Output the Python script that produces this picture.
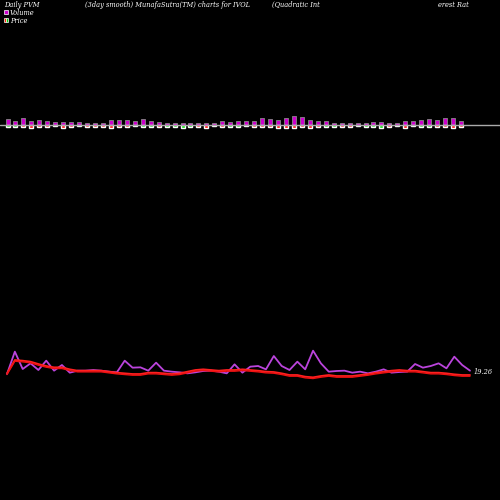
import numpy as np, pandas as pd, matplotlib
matplotlib.use("Agg")
import matplotlib.pyplot as plt, seaborn as sns

vol_top = [357,362,355,362,360,363,367,366,366,367,368,368,370,360,360,361,363,357,363,366,368,369,369,369,369,369,370,363,366,364,362,363,354,356,360,355,348,351,360,363,364,368,369,370,368,368,366,366,369,368,363,362,360,357,360,354,355,362]
price_val = [-2,-2,-2,-3,-2,-2,0,-3,-2,-1,-2,-2,-2,-3,-2,-2,-1,-2,-2,-2,-2,-2,-3,-2,-2,-3,0,-2,-2,-2,-1,-2,-2,-2,-3,-3,-3,-2,-3,-2,-2,-2,-2,-2,-1,-2,-2,-3,-2,-1,-3,-1,-2,-2,-2,-2,-3,-2]
price_up = [1,1,0,0,0,0,0,0,0,1,0,0,0,0,0,0,0,1,1,0,1,1,1,1,0,0,0,0,1,1,0,0,0,0,0,0,0,0,0,0,1,1,0,0,0,1,1,1,0,1,0,0,1,1,0,0,0,0]
purple = [102,35,87,70,90,62,92,75,98,92,92,90,92,95,97,62,83,82,92,68,92,95,97,100,97,93,92,95,100,73,98,80,78,88,48,78,90,65,88,32,70,95,93,92,98,95,100,95,88,98,96,95,72,83,78,70,85,50,75,92]
red = [100,60,62,65,72,78,82,82,88,92,92,92,92,95,98,100,102,102,98,98,100,102,100,95,90,88,90,92,90,90,88,90,92,95,96,100,105,105,110,112,108,105,108,108,108,105,102,98,95,92,90,92,92,95,98,98,100,103,105,105]

sns.set_style("dark")
fig = plt.figure(figsize=(5,5), dpi=100, facecolor="black")
ax = fig.add_axes([0,0,1,1]); ax.set_facecolor("black")

n = len(vol_top)
bx = np.linspace(7.5, 461, n)
vh = [(375-t)/3 for t in vol_top]
ax.bar(bx, [-h for h in vh], bottom=125, width=4, color="#cc00cc", edgecolor="#888888", linewidth=0.6)
ph = [-p if p!=0 else 1 for p in price_val]
cols = ["#00dd00" if u else "#ff0000" for u in price_up]
ax.bar(bx, ph, bottom=125, width=4, color=cols)
ax.axhline(125, color="#aaaaaa", lw=1)

lx = np.linspace(7, 470, len(purple))
df = pd.DataFrame({"x": lx, "p": 340+np.array(purple)/3, "r": 340+np.array(red)/3})
sns.lineplot(data=df, x="x", y="p", ax=ax, color="#bb44dd", lw=1.3)
sns.lineplot(data=df, x="x", y="r", ax=ax, color="#ff2020", lw=1.3)
df["r2"] = df["r"] + 1.2
sns.lineplot(data=df, x="x", y="r2", ax=ax, color="#ee1111", lw=1.0)
ax.set_xlim(0,500); ax.set_ylim(500,0); ax.axis("off")

f = dict(color="white", fontsize=4.8, family="DejaVu Serif", style="italic")
ax.text(4, 7, "Daily PVM", **f)
ax.text(85, 7, "(3day smooth) MunafaSutra(TM) charts for IVOL", **f)
ax.text(272, 7, "(Quadratic Int", **f)
ax.text(438, 7, "erest Rat", **f)
ax.text(10, 15, "Volume", **f); ax.text(10, 23, "Price", **f)
ax.add_patch(plt.Rectangle((4,10),4,4,facecolor="#cc00cc",edgecolor="white",lw=0.5))
ax.add_patch(plt.Rectangle((4,18),2,4,facecolor="#ff2200",edgecolor="white",lw=0.5))
ax.add_patch(plt.Rectangle((6,18),2,4,facecolor="#00cc00",edgecolor="white",lw=0.5))
ax.text(474, 374, "19.26", **f)
fig.savefig("out.png", dpi=100, facecolor="black")
